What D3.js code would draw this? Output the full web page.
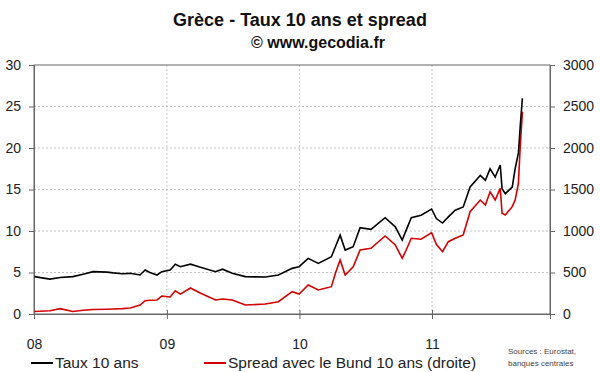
<!DOCTYPE html>
<html>
<head>
<meta charset="utf-8">
<script src="https://cdn.jsdelivr.net/npm/d3@7"></script>
<style>
  body { margin: 0; background: #fff; }
  svg { font-family: "Liberation Sans", Arial, sans-serif; }
</style>
</head>
<body>
<svg id="chart" width="600" height="372"></svg>
<script>
// values
var dates = [
  "2008-01-02","2008-02-14","2008-03-13","2008-04-17","2008-05-15","2008-06-12",
  "2008-07-20","2008-08-06","2008-09-01","2008-09-22","2008-10-19","2008-11-02",
  "2008-11-15","2008-12-05","2008-12-18","2009-01-10","2009-01-24","2009-02-07",
  "2009-03-07","2009-04-01","2009-05-15","2009-06-03","2009-06-30","2009-08-05",
  "2009-09-29","2009-11-04","2009-12-12","2009-12-31","2010-01-25","2010-02-22",
  "2010-03-30","2010-04-10","2010-04-23","2010-05-07","2010-05-29","2010-06-17",
  "2010-07-17","2010-08-25","2010-09-22","2010-10-11","2010-10-22","2010-11-05",
  "2010-12-02","2010-12-31","2011-01-13","2011-01-30","2011-02-15","2011-03-06",
  "2011-03-28","2011-04-16","2011-05-14","2011-05-28","2011-06-10","2011-06-24",
  "2011-07-08","2011-07-13","2011-07-22","2011-08-10","2011-08-18","2011-08-27",
  "2011-09-01","2011-09-07"
];
var taux = [
  4.5, 4.2, 4.4, 4.5, 4.8, 5.1,
  5.05, 4.95, 4.85, 4.9, 4.7, 5.3,
  5.0, 4.7, 5.1, 5.3, 6.0, 5.7,
  6.0, 5.65, 5.1, 5.4, 4.9, 4.5,
  4.45, 4.7, 5.5, 5.7, 6.7, 6.1,
  6.9, 8.1, 9.5, 7.7, 8.1, 10.4,
  10.2, 11.6, 10.5, 8.9, 10.1, 11.6,
  11.9, 12.65, 11.5, 10.96, 11.7, 12.5,
  12.9, 15.3, 16.7, 16.1, 17.5, 16.5,
  17.95, 15.1, 14.5, 15.3, 17.5, 19.4,
  22.6, 26.0
];
var spread = [
  30, 40, 64, 30, 45, 55,
  58, 60, 65, 72, 108, 160,
  165, 169, 217, 205, 280, 240,
  313, 256, 169, 180, 169, 108,
  120, 148, 269, 240, 349, 289,
  329, 490, 650, 470, 570, 771,
  791, 940, 831, 671, 771, 912,
  900, 980, 840, 751, 871, 912,
  952, 1233, 1373, 1313, 1473, 1373,
  1514, 1213, 1193, 1293, 1373, 1574,
  2016, 2437
];
var leftTicks = [0, 5, 10, 15, 20, 25, 30];
var rightTicks = [0, 500, 1000, 1500, 2000, 2500, 3000];
var yearTicks = ["2008-01-01", "2009-01-01", "2010-01-01", "2011-01-01"];

var parse = d3.timeParse("%Y-%m-%d");
var svg = d3.select("#chart");

var pL = 34, pR = 550, pT = 65, pB = 314;

var x = d3.scaleTime()
  .domain([parse("2008-01-01"), parse("2011-11-22")])
  .range([pL, pR]);
var yL = d3.scaleLinear().domain([0, 30]).range([pB, pT]);
var yR = d3.scaleLinear().domain([0, 3000]).range([pB, pT]);

// title
svg.append("text").attr("x", 300).attr("y", 26).attr("text-anchor", "middle")
  .attr("font-size", 18).attr("font-weight", "bold").attr("fill", "#111")
  .text("Grèce - Taux 10 ans et spread");
svg.append("text").attr("x", 318).attr("y", 48).attr("text-anchor", "middle")
  .attr("font-size", 16).attr("font-weight", "bold").attr("fill", "#111")
  .text("© www.gecodia.fr");

// grid
var grid = svg.append("g").attr("stroke", "#c4c4c4").attr("stroke-dasharray", "2,2");
grid.selectAll(".gy").data(leftTicks.slice(1, -1)).enter().append("line")
  .attr("x1", pL).attr("x2", pR)
  .attr("y1", function(d) { return yL(d); }).attr("y2", function(d) { return yL(d); });
grid.selectAll(".gx").data(yearTicks.slice(1)).enter().append("line")
  .attr("y1", pT).attr("y2", pB)
  .attr("x1", function(d) { return x(parse(d)); }).attr("x2", function(d) { return x(parse(d)); });

// frame
svg.append("rect").attr("x", pL).attr("y", pT)
  .attr("width", pR - pL).attr("height", pB - pT)
  .attr("fill", "none").attr("stroke", "#666");

// axes
var axL = svg.append("g").attr("transform", "translate(" + pL + ",0)")
  .call(d3.axisLeft(yL).tickValues(leftTicks).tickSize(5).tickPadding(8));
var axR = svg.append("g").attr("transform", "translate(" + pR + ",0)")
  .call(d3.axisRight(yR).tickValues(rightTicks).tickFormat(d3.format("d")).tickSize(5).tickPadding(8));
var axB = svg.append("g").attr("transform", "translate(0," + pB + ")")
  .call(d3.axisBottom(x).tickValues(yearTicks.map(parse))
    .tickFormat(d3.timeFormat("%y")).tickSize(5).tickPadding(20));
axB.selectAll(".tick line").attr("y1", -4);
[axL, axR, axB].forEach(function(a) {
  a.select(".domain").attr("stroke", "#666");
  a.selectAll(".tick line").attr("stroke", "#666");
  a.selectAll("text").attr("font-size", 14).attr("fill", "#222")
    .attr("font-family", "Liberation Sans, Arial, sans-serif");
});

// lines
var rows = dates.map(function(d, i) { return { date: parse(d), taux: taux[i], spread: spread[i] }; });
var lineTaux = d3.line().x(function(d) { return x(d.date); }).y(function(d) { return yL(d.taux); });
var lineSpread = d3.line().x(function(d) { return x(d.date); }).y(function(d) { return yR(d.spread); });
svg.append("path").datum(rows).attr("d", lineSpread)
  .attr("fill", "none").attr("stroke", "#d40000").attr("stroke-width", 1.6);
svg.append("path").datum(rows).attr("d", lineTaux)
  .attr("fill", "none").attr("stroke", "#000").attr("stroke-width", 1.6);

// legend
var legend = [
  { label: "Taux 10 ans", color: "#000", x: 31 },
  { label: "Spread avec le Bund 10 ans (droite)", color: "#d40000", x: 204 }
];
var lg = svg.append("g").selectAll("g").data(legend).enter().append("g");
lg.append("line").attr("x1", function(d) { return d.x; }).attr("x2", function(d) { return d.x + 22; })
  .attr("y1", 363).attr("y2", 363).attr("stroke", function(d) { return d.color; }).attr("stroke-width", 2);
lg.append("text").attr("x", function(d) { return d.x + 24; }).attr("y", 368)
  .attr("font-size", 15.5).attr("fill", "#222").text(function(d) { return d.label; });

// sources
svg.append("text").attr("x", 508).attr("y", 354).attr("font-size", 8).attr("fill", "#444")
  .text("Sources : Eurostat,");
svg.append("text").attr("x", 508).attr("y", 366).attr("font-size", 8).attr("fill", "#444")
  .text("banques centrales");
</script>
</body>
</html>
